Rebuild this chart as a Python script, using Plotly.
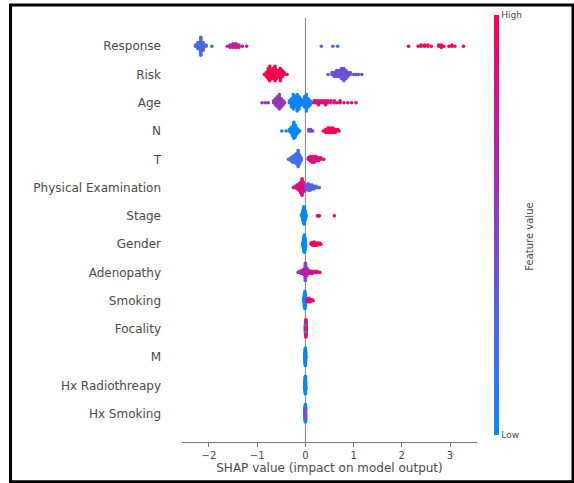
import numpy as np
import plotly.graph_objects as go

# Feature names, top to bottom
FEATURES = ["Response", "Risk", "Age", "N", "T", "Physical Examination", "Stage",
            "Gender", "Adenopathy", "Smoking", "Focality", "M", "Hx Radiothreapy",
            "Hx Smoking"]

# Each entry: (SHAP value, normalised feature value, number of samples)
RESPONSE = [(-2.28, 0.25, 2), (-2.23, 0.25, 6), (-2.17, 0.25, 15), (-2.12, 0.25, 7),
            (-2.06, 0.25, 2), (-1.94, 0.25, 1),
            (-1.62, 0.75, 1), (-1.56, 0.75, 3), (-1.50, 0.75, 4), (-1.44, 0.75, 4),
            (-1.38, 0.75, 3), (-1.31, 0.75, 1), (-1.22, 0.75, 1),
            (0.33, 0.2, 1), (0.57, 0.2, 1), (0.67, 0.2, 1),
            (2.14, 1.0, 1), (2.34, 1.0, 1), (2.40, 1.0, 2), (2.47, 1.0, 2), (2.54, 1.0, 2),
            (2.61, 1.0, 1), (2.77, 1.0, 2), (2.82, 1.0, 3), (2.87, 1.0, 1), (2.98, 1.0, 1),
            (3.04, 1.0, 2), (3.10, 1.0, 1), (3.28, 1.0, 1)]
RISK = [(-0.85, 1.0, 1), (-0.81, 1.0, 3), (-0.77, 1.0, 6), (-0.74, 1.0, 8), (-0.71, 1.0, 5),
        (-0.67, 1.0, 6), (-0.63, 1.0, 8), (-0.60, 1.0, 5), (-0.56, 1.0, 4), (-0.52, 1.0, 7),
        (-0.48, 1.0, 4), (-0.44, 1.0, 2), (-0.38, 1.0, 1),
        (0.47, 0.4, 1), (0.55, 0.4, 2), (0.60, 0.4, 3), (0.65, 0.4, 4), (0.70, 0.4, 4),
        (0.75, 0.4, 6), (0.80, 0.4, 7), (0.84, 0.4, 5), (0.88, 0.4, 3), (0.93, 0.4, 2),
        (1.00, 0.4, 1), (1.05, 0.4, 1), (1.10, 0.4, 1), (1.17, 0.4, 1)]
AGE = [(-0.90, 0.55, 1), (-0.83, 0.55, 1), (-0.77, 0.55, 1),
       (-0.66, 0.55, 2), (-0.62, 0.55, 4), (-0.58, 0.55, 6), (-0.54, 0.55, 8),
       (-0.50, 0.55, 5), (-0.46, 0.55, 3), (-0.43, 0.55, 1),
       (-0.33, 0.05, 2), (-0.29, 0.05, 5), (-0.25, 0.05, 8), (-0.21, 0.05, 6),
       (-0.17, 0.05, 9), (-0.13, 0.05, 7), (-0.10, 0.05, 4), (-0.06, 0.05, 3),
       (-0.02, 0.05, 6), (0.02, 0.05, 9), (0.06, 0.05, 5), (0.10, 0.05, 3), (0.13, 0.05, 1),
       (0.18, 0.85, 2), (0.22, 0.85, 2), (0.27, 0.85, 3), (0.32, 0.85, 2), (0.37, 0.85, 2),
       (0.42, 0.85, 3), (0.47, 0.85, 2), (0.53, 0.85, 2), (0.60, 0.85, 2), (0.66, 0.85, 1),
       (0.72, 0.85, 2), (0.80, 0.85, 1), (0.88, 0.85, 1), (0.96, 0.85, 1), (1.05, 0.85, 1)]
N_STAGE = [(-0.49, 0.0, 1), (-0.40, 0.0, 1), (-0.33, 0.0, 2), (-0.30, 0.0, 4), (-0.27, 0.0, 7),
           (-0.24, 0.0, 12), (-0.21, 0.0, 9), (-0.18, 0.0, 5), (-0.15, 0.0, 3), (-0.12, 0.0, 1),
           (0.07, 0.45, 2), (0.11, 0.45, 2), (0.15, 0.45, 1),
           (0.37, 1.0, 1), (0.42, 1.0, 3), (0.47, 1.0, 4), (0.52, 1.0, 4), (0.57, 1.0, 4),
           (0.62, 1.0, 3), (0.67, 1.0, 2), (0.70, 1.0, 1)]
T_STAGE = [(-0.35, 0.25, 1), (-0.30, 0.25, 3), (-0.26, 0.2, 5), (-0.22, 0.25, 6),
           (-0.18, 0.2, 8), (-0.15, 0.25, 12), (-0.12, 0.2, 7), (-0.09, 0.25, 3),
           (0.06, 0.85, 2), (0.10, 0.85, 4), (0.14, 0.85, 5), (0.18, 0.85, 5), (0.22, 0.85, 4),
           (0.27, 0.85, 3), (0.32, 0.85, 2), (0.38, 0.85, 1)]
PHYSICAL = [(-0.25, 0.85, 1), (-0.21, 0.85, 2), (-0.17, 0.85, 4), (-0.13, 0.85, 6),
            (-0.10, 0.85, 9), (-0.07, 0.85, 14), (-0.04, 0.85, 8), (-0.01, 0.85, 5),
            (0.02, 0.3, 4), (0.06, 0.3, 6), (0.10, 0.3, 5), (0.14, 0.3, 4), (0.18, 0.3, 3),
            (0.22, 0.3, 2), (0.26, 0.3, 1), (0.29, 0.3, 1)]
STAGE = [(-0.08, 0.0, 2), (-0.06, 0.0, 6), (-0.05, 0.0, 10), (-0.04, 0.0, 14), (-0.03, 0.0, 18),
         (-0.02, 0.0, 16), (-0.01, 0.0, 10), (0.00, 0.0, 6), (0.01, 0.0, 3),
         (0.25, 1.0, 1), (0.27, 1.0, 1), (0.29, 1.0, 1), (0.60, 1.0, 1)]
GENDER = [(-0.05, 0.0, 3), (-0.04, 0.0, 8), (-0.03, 0.0, 14), (-0.02, 0.0, 18), (-0.01, 0.0, 12),
          (0.00, 0.0, 5),
          (0.12, 1.0, 2), (0.15, 1.0, 3), (0.18, 1.0, 4), (0.21, 1.0, 3), (0.25, 1.0, 3),
          (0.29, 1.0, 2), (0.32, 1.0, 1)]
ADENOPATHY = [(-0.15, 0.55, 1), (-0.12, 0.55, 2), (-0.09, 0.6, 3), (-0.06, 0.55, 4),
              (-0.03, 0.7, 6), (0.00, 0.75, 10), (0.00, 0.45, 8), (0.03, 0.75, 8),
              (0.06, 0.6, 4), (0.10, 0.8, 3), (0.14, 0.8, 3), (0.19, 0.8, 2), (0.24, 0.85, 2),
              (0.30, 0.85, 1)]
SMOKING = [(-0.03, 0.0, 4), (-0.02, 0.0, 12), (-0.01, 0.0, 16), (0.00, 0.0, 10),
           (0.04, 0.9, 3), (0.07, 0.9, 4), (0.10, 0.9, 3), (0.13, 0.9, 2), (0.16, 0.9, 1)]
FOCALITY = [(0.000, 1.0, 6), (0.005, 1.0, 12), (0.010, 1.0, 18), (0.015, 1.0, 10),
            (0.020, 1.0, 4), (0.000, 0.0, 2)]
M_STAGE = [(-0.004, 0.0, 8), (-0.002, 0.05, 16), (0.000, 0.0, 20), (0.002, 0.05, 10)]
HX_RADIO = [(-0.004, 0.0, 8), (-0.002, 0.0, 16), (0.000, 0.0, 20), (0.002, 0.0, 10)]
HX_SMOKING = [(-0.004, 0.0, 8), (-0.002, 0.3, 14), (0.000, 0.0, 20), (0.002, 0.4, 10)]

ROWS = [RESPONSE, RISK, AGE, N_STAGE, T_STAGE, PHYSICAL, STAGE, GENDER, ADENOPATHY,
        SMOKING, FOCALITY, M_STAGE, HX_RADIO, HX_SMOKING]

X_TICKS = [-2, -1, 0, 1, 2, 3]

# Blue -> purple -> red feature-value colormap
COLORSCALE = [[0.0, "rgb(0,138,250)"], [0.25, "rgb(75,105,235)"], [0.5, "rgb(135,65,200)"],
              [0.75, "rgb(200,25,150)"], [1.0, "rgb(255,0,82)"]]


def swarm_offsets(shaps, nbins=100, row_height=0.4):
    """Stack points falling into the same SHAP bin alternately up and down."""
    shaps = np.asarray(shaps, dtype=float)
    quant = np.round(nbins * (shaps - shaps.min()) / (shaps.max() - shaps.min() + 1e-8))
    order = np.argsort(quant, kind="stable")
    ys = np.zeros(len(shaps))
    layer, last_bin = 0, None
    for ind in order:
        if quant[ind] != last_bin:
            layer = 0
        ys[ind] = np.ceil(layer / 2) * ((layer % 2) * 2 - 1)
        layer += 1
        last_bin = quant[ind]
    ys *= 0.9 * (row_height / np.max(ys + 1))
    return ys


xs, ys, cs = [], [], []
n_rows = len(FEATURES)
for i, row in enumerate(ROWS):
    sv = np.concatenate([[s] * n for s, _, n in row])
    fv = np.concatenate([[f] * n for _, f, n in row])
    pos = n_rows - 1 - i
    xs.append(sv)
    ys.append(pos + swarm_offsets(sv))
    cs.append(fv)
xs = np.concatenate(xs)
ys = np.concatenate(ys)
cs = np.concatenate(cs)

# Plot-area geometry in pixels (used for the frame and side label)
W, H = 574, 483
L, R, T, B = 182, 477, 18, 441.7


def px(x):
    return (x - L) / (R - L)


def py(y):
    return (B - y) / (B - T)


FONT = "DejaVu Sans"
TXT = "#4a4a4a"

fig = go.Figure()
fig.add_trace(go.Scatter(
    x=xs, y=ys, mode="markers", hoverinfo="skip",
    marker=dict(size=3.6, color=cs, colorscale=COLORSCALE, cmin=0, cmax=1,
                line=dict(width=0),
                colorbar=dict(thickness=5, lenmode="pixels", len=420,
                              xref="container", yref="container",
                              x=494 / W, xanchor="left", xpad=0,
                              y=1 - 17 / H, yanchor="top", ypad=0,
                              outlinewidth=0, tickvals=[0, 1], ticktext=["Low", "High"],
                              ticks="", tickfont=dict(family=FONT, size=9, color=TXT))),
    showlegend=False))

fig.update_layout(
    width=W, height=H,
    margin=dict(l=L, r=W - R, t=T, b=H - B, autoexpand=False),
    paper_bgcolor="white", plot_bgcolor="white",
    font=dict(family=FONT, color=TXT),
    xaxis=dict(range=[-2.56, 3.56], tickvals=X_TICKS, ticks="outside", ticklen=4,
               tickcolor="#777777", showline=True, linecolor="#777777", linewidth=1,
               showgrid=False, zeroline=False, automargin=False,
               tickfont=dict(family=FONT, size=10, color=TXT),
               title=dict(text="SHAP value (impact on model output)", standoff=2,
                          font=dict(family=FONT, size=12, color=TXT))),
    yaxis=dict(range=[-1, n_rows], tickvals=list(range(n_rows - 1, -1, -1)), ticktext=FEATURES,
               showgrid=False, zeroline=False, showline=False, ticks="",
               ticklabelstandoff=20, automargin=False,
               tickfont=dict(family=FONT, size=12, color=TXT)),
    shapes=[
        dict(type="line", xref="x", yref="paper", x0=0, x1=0, y0=0, y1=1,
             line=dict(color="#888888", width=1), layer="below"),
        dict(type="rect", xref="paper", yref="paper",
             x0=px(10.5), x1=px(573), y0=py(5), y1=py(481.5),
             line=dict(color="black", width=3)),
    ],
    annotations=[
        dict(text="Feature value", xref="paper", yref="paper", x=px(537), y=py(237),
             textangle=-90, showarrow=False, font=dict(family=FONT, size=10, color=TXT)),
    ],
)

fig.write_html("out.html")
